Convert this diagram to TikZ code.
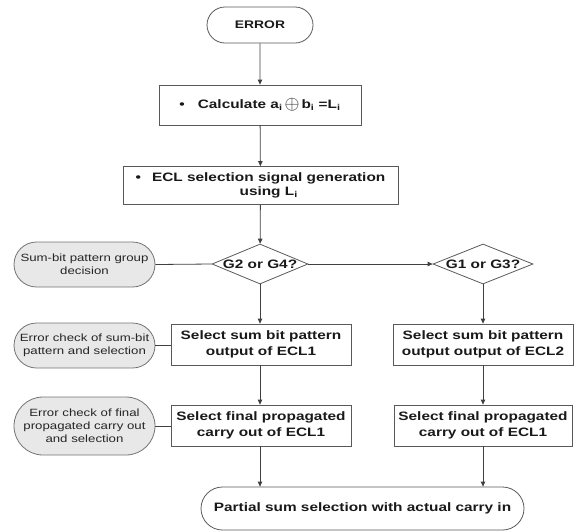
\documentclass[tikz,border=0pt]{standalone}
\usepackage{fontspec}
\setmainfont{Liberation Sans}[FakeStretch=1.26]
\usetikzlibrary{arrows.meta,shapes.geometric,shapes.misc}
\begin{document}
\begin{tikzpicture}[x=1pt,y=-1pt,
  line/.style={draw=black!75, line width=0.8pt},
  arr/.style={line, -{Triangle[length=5pt,width=4.5pt]}},
  bfont/.style={font=\fontsize{12.2}{15.5}\selectfont\bfseries},
  procbox/.style={draw=black!65, line width=0.8pt, rectangle, inner sep=0pt, align=center, bfont, text=black!90},
  term/.style={draw=black!65, line width=0.8pt, rounded rectangle, inner sep=0pt, align=center, bfont, text=black!90},
  note/.style={draw=black!55, line width=0.8pt, fill=black!9, rounded rectangle, inner sep=0pt, align=center,
    font=\fontsize{10.5}{13.2}\selectfont, text=black!85, minimum width=141pt},
  dia/.style={draw=black!65, line width=0.8pt, diamond, inner sep=0pt, bfont, text=black!90, minimum height=40pt}
]
\useasboundingbox (0,0) rectangle (577,531);

\node[term, minimum width=106pt, minimum height=36pt, font=\fontsize{11}{13}\selectfont\bfseries] (err) at (260,25) {ERROR};

\node[procbox, minimum width=202pt, minimum height=40pt] (calc) at (260,105)
  {\textbullet\hspace{13pt}Calculate a\textsubscript{i}\,\raisebox{-1.5pt}{\scalebox{1.6}{$\oplus$}}\,b\textsubscript{i} =L\textsubscript{i}};

\node[procbox, minimum width=275pt, minimum height=38pt] (ecl) at (260.5,185.5)
  {\textbullet\hspace{11pt}\begin{tabular}[t]{@{}c@{}}ECL selection signal generation\\[-1.5pt] using L\textsubscript{i}\end{tabular}};

\node[dia, minimum width=96pt] (d1) at (260,264) {\makebox[0pt]{G2 or G4?}};
\node[dia, minimum width=100pt] (d2) at (483,264) {\makebox[0pt]{G1 or G3?}};

\node[note, minimum height=45pt] (n1) at (84.5,264.5) {Sum-bit pattern group\\decision};
\node[note, minimum height=45pt] (n2) at (84.5,345.5) {Error check of sum-bit\\pattern and selection};
\node[note, minimum height=58pt] (n3) at (84.5,426) {Error check of final\\propagated carry out\\and selection};

\node[procbox, minimum width=180pt, minimum height=41pt] (s1) at (261,344.5) {Select sum bit pattern\\output of ECL1};
\node[procbox, minimum width=180pt, minimum height=41pt] (s2) at (483,344.5) {Select sum bit pattern\\output output of ECL2};
\node[procbox, minimum width=180pt, minimum height=41pt] (f1) at (261,425.5) {Select final propagated\\carry out of ECL1};
\node[procbox, minimum width=178pt, minimum height=41pt] (f2) at (483,425.5) {Select final propagated\\carry out of ECL1};

\node[term, minimum width=323pt, minimum height=43pt] (fin) at (362.5,508.5) {Partial sum selection with actual carry in};

\draw[arr] (err) -- (calc);
\draw[arr] (calc) -- (ecl);
\draw[arr] (ecl) -- (d1);
\draw[arr] (d1.east) -- (d2.west);
\draw[line] (n1.east) -- (d1.west);
\draw[arr] (d1.south) -- (d1.south |- s1.north);
\draw[arr] (d2.south) -- (d2.south |- s2.north);
\draw[line] (n2.east) -- (n2.east -| s1.west);
\draw[line] (n3.east) -- (n3.east -| f1.west);
\draw[arr] (s1.south -| d1.south) -- (d1.south |- f1.north);
\draw[arr] (s2.south) -- (f2.north);
\draw[arr] (f1.south -| d1.south) -- (d1.south |- fin.north);
\draw[arr] (f2.south) -- (f2.south |- fin.north);
\end{tikzpicture}
\end{document}
